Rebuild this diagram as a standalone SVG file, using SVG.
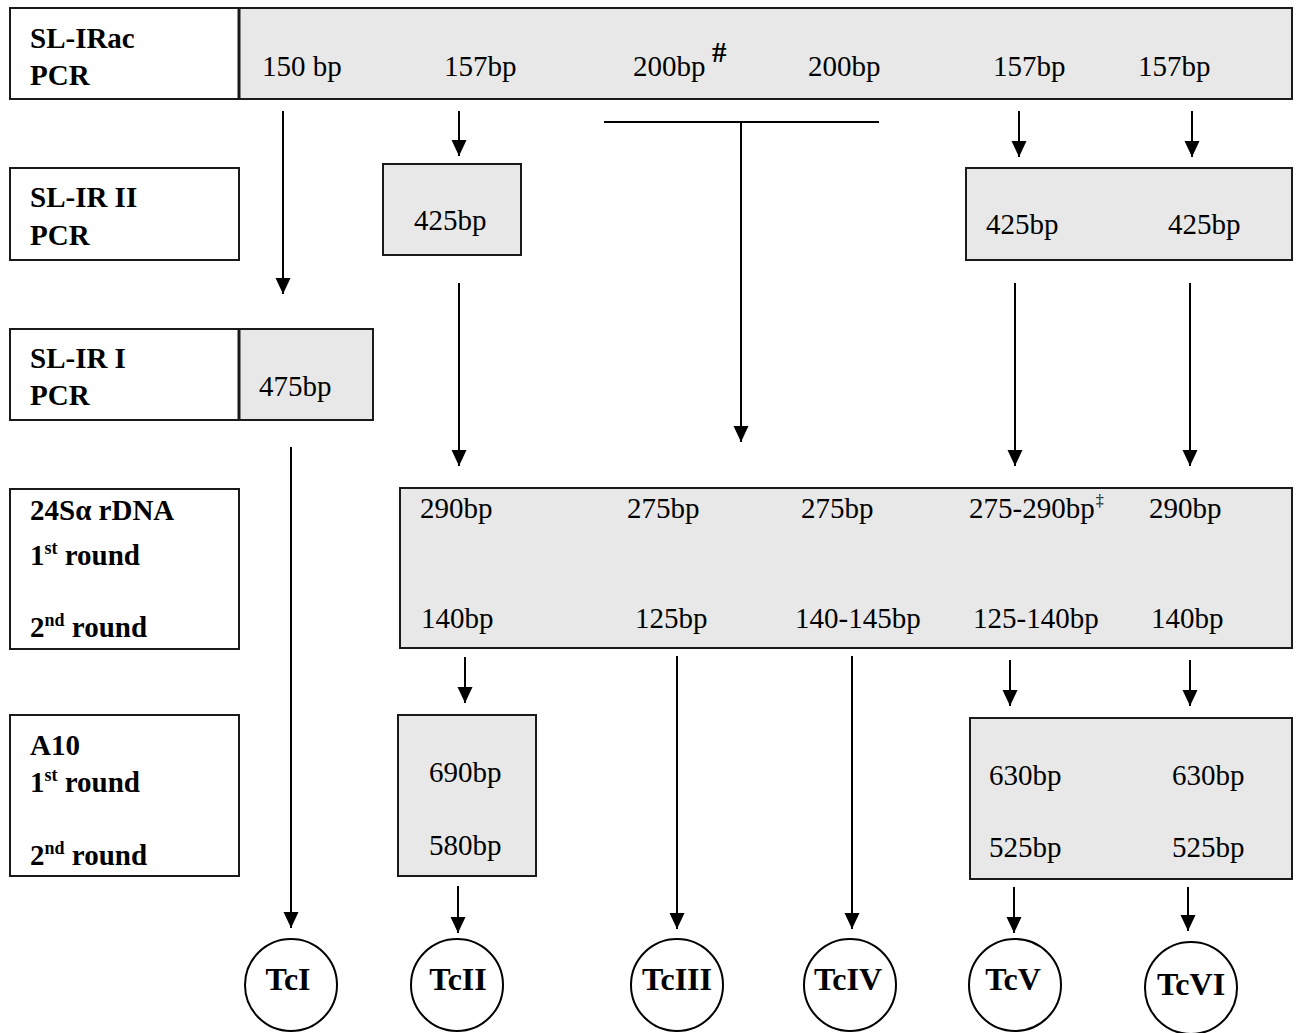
<svg xmlns="http://www.w3.org/2000/svg" width="1300" height="1033" viewBox="0 0 1300 1033">
<style>
.bg{fill:#ffffff}
.lab{fill:#ffffff;stroke:#1a1a1a;stroke-width:2}
.gr{fill:#e8e8e8;stroke:#1a1a1a;stroke-width:2}
.div{stroke:#1a1a1a;stroke-width:3}
.b{font-family:"Liberation Serif","Times New Roman",serif;font-weight:bold;font-size:29px;fill:#000}
.n{font-family:"Liberation Serif","Times New Roman",serif;font-size:29px;fill:#000}
.sup{font-size:18px}
.c{fill:#ffffff;stroke:#000;stroke-width:2}
.ct{font-family:"Liberation Serif","Times New Roman",serif;font-weight:bold;font-size:32px;fill:#000;text-anchor:middle}
.ln{stroke:#000;stroke-width:2;fill:none}
.ar{stroke:#000;stroke-width:2;fill:none;marker-end:url(#ah)}
</style>
<defs>
<marker id="ah" markerUnits="userSpaceOnUse" markerWidth="16" markerHeight="16" refX="16" refY="7.5" orient="auto">
<path d="M0,0 L16,7.5 L0,15 z" fill="#000"/>
</marker>
</defs>
<rect class="bg" x="0" y="0" width="1300" height="1033"/>

<g id="row-slirac">
<rect class="lab" x="10" y="8" width="229" height="91"/>
<rect class="gr" x="239" y="8" width="1053" height="91"/>
<line class="div" x1="239" y1="8" x2="239" y2="99"/>
<text class="b" x="30" y="48">SL-IRac</text>
<text class="b" x="30" y="85">PCR</text>
<text class="n" x="262" y="76">150 bp</text>
<text class="n" x="444" y="76">157bp</text>
<text class="n" x="633" y="76">200bp</text>
<text class="b" x="712" y="62" font-size="22">#</text>
<text class="n" x="808" y="76">200bp</text>
<text class="n" x="993" y="76">157bp</text>
<text class="n" x="1138" y="76">157bp</text>
</g>

<g id="row-slir2">
<rect class="lab" x="10" y="168" width="229" height="92"/>
<text class="b" x="30" y="207">SL-IR II</text>
<text class="b" x="30" y="245">PCR</text>
</g>
<g id="box-425-a">
<rect class="gr" x="383" y="164" width="138" height="91"/>
<text class="n" x="414" y="230">425bp</text>
</g>
<g id="box-425-b">
<rect class="gr" x="966" y="168" width="326" height="92"/>
<text class="n" x="986" y="234">425bp</text>
<text class="n" x="1168" y="234">425bp</text>
</g>

<g id="row-slir1">
<rect class="lab" x="10" y="329" width="229" height="91"/>
<rect class="gr" x="239" y="329" width="134" height="91"/>
<line class="div" x1="239" y1="329" x2="239" y2="420"/>
<text class="b" x="30" y="368">SL-IR I</text>
<text class="b" x="30" y="405">PCR</text>
<text class="n" x="259" y="396">475bp</text>
</g>

<g id="row-24s">
<rect class="lab" x="10" y="489" width="229" height="160"/>
<text class="b" x="30" y="520">24Sα rDNA</text>
<text class="b" x="30" y="565">1<tspan class="sup" dy="-11">st</tspan><tspan dy="11"> round</tspan></text>
<text class="b" x="30" y="637">2<tspan class="sup" dy="-11">nd</tspan><tspan dy="11"> round</tspan></text>
</g>
<g id="box-24s">
<rect class="gr" x="400" y="488" width="892" height="160"/>
<text class="n" x="420" y="518">290bp</text>
<text class="n" x="627" y="518">275bp</text>
<text class="n" x="801" y="518">275bp</text>
<text class="n" x="969" y="518">275-290bp<tspan font-size="16" dx="1" dy="-12">‡</tspan></text>
<text class="n" x="1149" y="518">290bp</text>
<text class="n" x="421" y="628">140bp</text>
<text class="n" x="635" y="628">125bp</text>
<text class="n" x="795" y="628">140-145bp</text>
<text class="n" x="973" y="628">125-140bp</text>
<text class="n" x="1151" y="628">140bp</text>
</g>

<g id="row-a10">
<rect class="lab" x="10" y="715" width="229" height="161"/>
<text class="b" x="30" y="755">A10</text>
<text class="b" x="30" y="792">1<tspan class="sup" dy="-11">st</tspan><tspan dy="11"> round</tspan></text>
<text class="b" x="30" y="865">2<tspan class="sup" dy="-11">nd</tspan><tspan dy="11"> round</tspan></text>
</g>
<g id="box-a10-a">
<rect class="gr" x="398" y="715" width="138" height="161"/>
<text class="n" x="429" y="782">690bp</text>
<text class="n" x="429" y="855">580bp</text>
</g>
<g id="box-a10-b">
<rect class="gr" x="970" y="718" width="322" height="161"/>
<text class="n" x="989" y="785">630bp</text>
<text class="n" x="989" y="857">525bp</text>
<text class="n" x="1172" y="785">630bp</text>
<text class="n" x="1172" y="857">525bp</text>
</g>

<g id="tc1"><circle class="c" cx="291" cy="985" r="46"/><text class="ct" x="288" y="990">TcI</text></g>
<g id="tc2"><circle class="c" cx="457" cy="985" r="46"/><text class="ct" x="458" y="990">TcII</text></g>
<g id="tc3"><circle class="c" cx="677" cy="985" r="46"/><text class="ct" x="677" y="990">TcIII</text></g>
<g id="tc4"><circle class="c" cx="850" cy="985" r="46"/><text class="ct" x="848" y="990">TcIV</text></g>
<g id="tc5"><circle class="c" cx="1015" cy="985" r="46"/><text class="ct" x="1013" y="990">TcV</text></g>
<g id="tc6"><circle class="c" cx="1191" cy="988" r="46"/><text class="ct" x="1191" y="995">TcVI</text></g>

<g id="connectors">
<line class="ar" x1="283" y1="111" x2="283" y2="294"/>
<line class="ar" x1="459" y1="111" x2="459" y2="156"/>
<line class="ln" x1="604" y1="122" x2="879" y2="122"/>
<line class="ar" x1="741" y1="122" x2="741" y2="442"/>
<line class="ar" x1="1019" y1="111" x2="1019" y2="157"/>
<line class="ar" x1="1192" y1="111" x2="1192" y2="157"/>
<line class="ar" x1="459" y1="283" x2="459" y2="466"/>
<line class="ar" x1="1015" y1="283" x2="1015" y2="466"/>
<line class="ar" x1="1190" y1="283" x2="1190" y2="466"/>
<line class="ar" x1="291" y1="447" x2="291" y2="928"/>
<line class="ar" x1="465" y1="657" x2="465" y2="703"/>
<line class="ar" x1="677" y1="656" x2="677" y2="929"/>
<line class="ar" x1="852" y1="656" x2="852" y2="929"/>
<line class="ar" x1="1010" y1="660" x2="1010" y2="706"/>
<line class="ar" x1="1190" y1="660" x2="1190" y2="706"/>
<line class="ar" x1="458" y1="886" x2="458" y2="933"/>
<line class="ar" x1="1014" y1="887" x2="1014" y2="933"/>
<line class="ar" x1="1188" y1="887" x2="1188" y2="931"/>
</g>
</svg>
